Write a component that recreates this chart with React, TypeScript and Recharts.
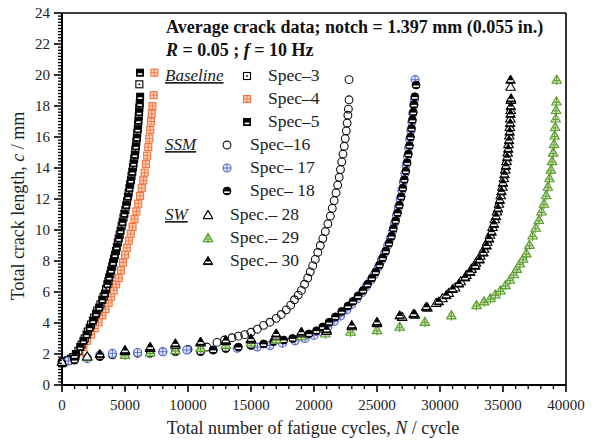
import { ScatterChart, Scatter, XAxis, YAxis, ReferenceLine } from "recharts";

// fatigue cycles (n) vs total crack length in mm (c)
const spec3 = [
  { n: 100, c: 1.45 }, { n: 500, c: 1.6 }, { n: 900, c: 1.8 }, { n: 1300, c: 2.2 },
  { n: 1550, c: 2.6 }, { n: 1800, c: 3.0 }, { n: 2050, c: 3.45 }, { n: 2300, c: 3.9 },
  { n: 2550, c: 4.35 }, { n: 2800, c: 4.8 }, { n: 3050, c: 5.2 }, { n: 3300, c: 5.7 },
  { n: 3500, c: 6.2 }, { n: 3680, c: 6.7 }, { n: 3830, c: 7.15 }, { n: 3980, c: 7.65 },
  { n: 4130, c: 8.15 }, { n: 4280, c: 8.65 }, { n: 4430, c: 9.2 }, { n: 4580, c: 9.7 },
  { n: 4730, c: 10.25 }, { n: 4880, c: 10.8 }, { n: 5030, c: 11.3 }, { n: 5160, c: 11.85 },
  { n: 5290, c: 12.4 }, { n: 5410, c: 12.95 }, { n: 5520, c: 13.5 }, { n: 5630, c: 14.05 },
  { n: 5730, c: 14.6 }, { n: 5820, c: 15.15 }, { n: 5900, c: 15.7 }, { n: 5970, c: 16.25 },
  { n: 6040, c: 16.8 }, { n: 6090, c: 17.35 }, { n: 6140, c: 17.9 }, { n: 6140, c: 19.4 },
];

const spec4 = [
  { n: 0, c: 1.45 }, { n: 500, c: 1.55 }, { n: 1000, c: 1.8 }, { n: 1400, c: 2.1 },
  { n: 1700, c: 2.45 }, { n: 2000, c: 2.85 }, { n: 2300, c: 3.25 }, { n: 2600, c: 3.65 },
  { n: 2900, c: 4.05 }, { n: 3200, c: 4.5 }, { n: 3450, c: 4.9 }, { n: 3700, c: 5.3 },
  { n: 3900, c: 5.7 }, { n: 4100, c: 6.1 }, { n: 4300, c: 6.5 }, { n: 4500, c: 6.9 },
  { n: 4680, c: 7.4 }, { n: 4850, c: 7.9 }, { n: 5000, c: 8.4 }, { n: 5150, c: 8.85 },
  { n: 5300, c: 9.3 }, { n: 5450, c: 9.75 }, { n: 5600, c: 10.2 }, { n: 5750, c: 10.7 },
  { n: 5900, c: 11.2 }, { n: 6050, c: 11.7 }, { n: 6200, c: 12.2 }, { n: 6330, c: 12.7 },
  { n: 6450, c: 13.2 }, { n: 6560, c: 13.7 }, { n: 6660, c: 14.25 }, { n: 6760, c: 14.8 },
  { n: 6850, c: 15.35 }, { n: 6930, c: 15.9 }, { n: 7000, c: 16.45 }, { n: 7060, c: 17.0 },
  { n: 7120, c: 17.5 }, { n: 7180, c: 18.0 }, { n: 7280, c: 18.7 }, { n: 7330, c: 20.15 },
];

const spec5 = [
  { n: 0, c: 1.4 }, { n: 300, c: 1.55 }, { n: 700, c: 1.7 }, { n: 1100, c: 2.0 },
  { n: 1450, c: 2.45 }, { n: 1700, c: 2.85 }, { n: 1950, c: 3.25 }, { n: 2200, c: 3.7 },
  { n: 2450, c: 4.15 }, { n: 2700, c: 4.6 }, { n: 2950, c: 5.0 }, { n: 3200, c: 5.5 },
  { n: 3400, c: 5.9 }, { n: 3600, c: 6.5 }, { n: 3750, c: 6.95 }, { n: 3900, c: 7.4 },
  { n: 4050, c: 7.9 }, { n: 4200, c: 8.4 }, { n: 4350, c: 8.9 }, { n: 4500, c: 9.45 },
  { n: 4650, c: 9.95 }, { n: 4800, c: 10.5 }, { n: 4950, c: 11.05 }, { n: 5100, c: 11.6 },
  { n: 5230, c: 12.15 }, { n: 5350, c: 12.7 }, { n: 5470, c: 13.2 }, { n: 5580, c: 13.75 },
  { n: 5680, c: 14.3 }, { n: 5780, c: 14.85 }, { n: 5860, c: 15.4 }, { n: 5940, c: 15.95 },
  { n: 6010, c: 16.5 }, { n: 6070, c: 17.05 }, { n: 6120, c: 17.6 }, { n: 6170, c: 18.15 },
  { n: 6200, c: 18.6 }, { n: 6190, c: 20.15 },
];

const spec16 = [
  { n: 0, c: 1.5 }, { n: 2000, c: 1.75 }, { n: 4000, c: 1.95 }, { n: 6000, c: 2.05 },
  { n: 8000, c: 2.15 }, { n: 10000, c: 2.3 }, { n: 11500, c: 2.45 }, { n: 12300, c: 2.75 },
  { n: 12900, c: 2.9 }, { n: 13500, c: 3.05 }, { n: 14000, c: 3.15 }, { n: 14500, c: 3.25 },
  { n: 15000, c: 3.4 }, { n: 15500, c: 3.6 }, { n: 16000, c: 3.85 }, { n: 16500, c: 4.05 },
  { n: 17000, c: 4.3 }, { n: 17400, c: 4.55 }, { n: 17800, c: 4.85 }, { n: 18150, c: 5.15 },
  { n: 18450, c: 5.5 }, { n: 18750, c: 5.8 }, { n: 19000, c: 6.1 }, { n: 19250, c: 6.5 },
  { n: 19500, c: 6.9 }, { n: 19700, c: 7.3 }, { n: 19900, c: 7.7 }, { n: 20100, c: 8.1 },
  { n: 20300, c: 8.55 }, { n: 20500, c: 9.0 }, { n: 20700, c: 9.45 }, { n: 20900, c: 9.9 },
  { n: 21100, c: 10.4 }, { n: 21300, c: 10.9 }, { n: 21450, c: 11.4 }, { n: 21600, c: 11.9 },
  { n: 21750, c: 12.4 }, { n: 21880, c: 12.9 }, { n: 22000, c: 13.4 }, { n: 22100, c: 13.9 },
  { n: 22200, c: 14.4 }, { n: 22300, c: 14.9 }, { n: 22400, c: 15.4 }, { n: 22480, c: 15.9 },
  { n: 22560, c: 16.4 }, { n: 22630, c: 16.9 }, { n: 22690, c: 17.4 }, { n: 22730, c: 17.8 },
  { n: 22780, c: 18.4 }, { n: 22780, c: 19.7 },
];

const spec17 = [
  { n: 500, c: 1.55 }, { n: 2000, c: 1.7 }, { n: 3000, c: 1.94 }, { n: 4000, c: 2.04 },
  { n: 6000, c: 2.1 }, { n: 8000, c: 2.15 }, { n: 9900, c: 2.26 }, { n: 12000, c: 2.26 },
  { n: 13900, c: 2.37 }, { n: 15500, c: 2.45 }, { n: 16500, c: 2.55 }, { n: 17500, c: 2.7 },
  { n: 18500, c: 2.85 }, { n: 19300, c: 3.0 }, { n: 20000, c: 3.2 }, { n: 20600, c: 3.45 },
  { n: 21100, c: 3.75 }, { n: 21600, c: 4.1 }, { n: 22100, c: 4.45 }, { n: 22600, c: 4.85 },
  { n: 23000, c: 5.2 }, { n: 23400, c: 5.55 }, { n: 23800, c: 5.95 }, { n: 24150, c: 6.35 },
  { n: 24500, c: 6.75 }, { n: 24800, c: 7.15 }, { n: 25100, c: 7.6 }, { n: 25350, c: 8.05 },
  { n: 25600, c: 8.5 }, { n: 25850, c: 9.0 }, { n: 26050, c: 9.45 }, { n: 26250, c: 9.95 },
  { n: 26400, c: 10.45 }, { n: 26550, c: 10.95 }, { n: 26700, c: 11.45 }, { n: 26840, c: 12.0 },
  { n: 26970, c: 12.55 }, { n: 27090, c: 13.1 }, { n: 27210, c: 13.65 }, { n: 27320, c: 14.2 },
  { n: 27420, c: 14.75 }, { n: 27510, c: 15.3 }, { n: 27600, c: 15.85 }, { n: 27690, c: 16.4 },
  { n: 27770, c: 16.95 }, { n: 27840, c: 17.5 }, { n: 27910, c: 18.05 }, { n: 27970, c: 18.4 },
  { n: 28020, c: 19.7 },
];

const spec18 = [
  { n: 0, c: 1.4 }, { n: 1000, c: 1.6 }, { n: 3000, c: 1.83 }, { n: 5000, c: 1.94 },
  { n: 7000, c: 2.04 }, { n: 9000, c: 2.15 }, { n: 11000, c: 2.15 }, { n: 12000, c: 2.26 },
  { n: 13000, c: 2.35 }, { n: 14000, c: 2.45 }, { n: 15000, c: 2.55 }, { n: 16000, c: 2.65 },
  { n: 16800, c: 2.8 }, { n: 17600, c: 2.9 }, { n: 18300, c: 3.0 }, { n: 19000, c: 3.15 },
  { n: 19600, c: 3.3 }, { n: 20200, c: 3.5 }, { n: 20700, c: 3.75 }, { n: 21200, c: 4.05 },
  { n: 21700, c: 4.4 }, { n: 22200, c: 4.75 }, { n: 22700, c: 5.1 }, { n: 23100, c: 5.4 },
  { n: 23500, c: 5.75 }, { n: 23900, c: 6.1 }, { n: 24250, c: 6.5 }, { n: 24600, c: 6.9 },
  { n: 24900, c: 7.3 }, { n: 25200, c: 7.75 }, { n: 25450, c: 8.2 }, { n: 25700, c: 8.65 },
  { n: 25950, c: 9.15 }, { n: 26150, c: 9.6 }, { n: 26300, c: 10.1 }, { n: 26480, c: 10.6 },
  { n: 26630, c: 11.1 }, { n: 26780, c: 11.6 }, { n: 26920, c: 12.15 }, { n: 27050, c: 12.7 },
  { n: 27170, c: 13.25 }, { n: 27290, c: 13.8 }, { n: 27390, c: 14.35 }, { n: 27490, c: 14.9 },
  { n: 27580, c: 15.45 }, { n: 27660, c: 16.0 }, { n: 27740, c: 16.55 }, { n: 27810, c: 17.1 },
  { n: 27880, c: 17.6 }, { n: 27940, c: 18.1 }, { n: 28000, c: 18.6 }, { n: 28100, c: 19.35 },
];

const spec28 = [
  { n: 0, c: 1.5 }, { n: 2000, c: 1.85 }, { n: 5000, c: 2.2 }, { n: 7000, c: 2.4 },
  { n: 9000, c: 2.6 }, { n: 11000, c: 2.75 }, { n: 13000, c: 2.85 }, { n: 15000, c: 2.95 },
  { n: 17000, c: 3.2 }, { n: 19000, c: 3.35 }, { n: 21000, c: 3.5 }, { n: 23000, c: 3.8 },
  { n: 25000, c: 4.0 }, { n: 27000, c: 4.4 }, { n: 28000, c: 4.55 }, { n: 29000, c: 5.0 },
  { n: 29700, c: 5.3 }, { n: 30200, c: 5.6 }, { n: 30700, c: 5.95 }, { n: 31200, c: 6.3 },
  { n: 31650, c: 6.7 }, { n: 32100, c: 7.1 }, { n: 32500, c: 7.5 }, { n: 32850, c: 7.9 },
  { n: 33200, c: 8.35 }, { n: 33500, c: 8.8 }, { n: 33750, c: 9.25 }, { n: 33970, c: 9.7 },
  { n: 34170, c: 10.2 }, { n: 34350, c: 10.7 }, { n: 34520, c: 11.2 }, { n: 34680, c: 11.7 },
  { n: 34820, c: 12.25 }, { n: 34950, c: 12.8 }, { n: 35070, c: 13.35 }, { n: 35180, c: 13.9 },
  { n: 35280, c: 14.45 }, { n: 35370, c: 15.0 }, { n: 35440, c: 15.55 }, { n: 35500, c: 16.1 },
  { n: 35540, c: 16.65 }, { n: 35580, c: 17.2 }, { n: 35610, c: 17.75 }, { n: 35630, c: 18.4 },
  { n: 35600, c: 19.25 },
];

const spec29 = [
  { n: 2000, c: 1.83 }, { n: 5000, c: 1.95 }, { n: 7000, c: 2.1 }, { n: 9000, c: 2.25 },
  { n: 11000, c: 2.4 }, { n: 13000, c: 2.6 }, { n: 15000, c: 2.75 }, { n: 17000, c: 2.95 },
  { n: 19000, c: 3.15 }, { n: 20900, c: 3.33 }, { n: 22900, c: 3.44 }, { n: 25000, c: 3.55 },
  { n: 26800, c: 3.76 }, { n: 28800, c: 4.08 }, { n: 30900, c: 4.5 }, { n: 32900, c: 5.16 },
  { n: 33500, c: 5.4 }, { n: 34000, c: 5.6 }, { n: 34400, c: 5.85 }, { n: 34800, c: 6.1 },
  { n: 35200, c: 6.45 }, { n: 35550, c: 6.8 }, { n: 35850, c: 7.15 }, { n: 36100, c: 7.5 },
  { n: 36350, c: 7.85 }, { n: 36600, c: 8.15 }, { n: 36850, c: 8.5 }, { n: 37100, c: 9.05 },
  { n: 37350, c: 9.65 }, { n: 37600, c: 10.15 }, { n: 37850, c: 10.65 }, { n: 38050, c: 11.2 },
  { n: 38250, c: 11.7 }, { n: 38420, c: 12.25 }, { n: 38560, c: 12.8 }, { n: 38690, c: 13.35 },
  { n: 38800, c: 13.9 }, { n: 38900, c: 14.45 }, { n: 38980, c: 15.0 }, { n: 39050, c: 15.55 },
  { n: 39100, c: 16.1 }, { n: 39140, c: 16.65 }, { n: 39180, c: 17.2 }, { n: 39210, c: 17.75 },
  { n: 39240, c: 18.3 }, { n: 39260, c: 19.7 },
];

const spec30 = [
  { n: 1000, c: 1.9 }, { n: 3000, c: 2.0 }, { n: 5000, c: 2.26 }, { n: 7000, c: 2.47 },
  { n: 9000, c: 2.69 }, { n: 11000, c: 2.8 }, { n: 13000, c: 2.9 }, { n: 15000, c: 3.0 },
  { n: 17000, c: 3.33 }, { n: 19000, c: 3.44 }, { n: 21000, c: 3.6 }, { n: 23000, c: 3.87 },
  { n: 25000, c: 4.08 }, { n: 26800, c: 4.5 }, { n: 27900, c: 4.6 }, { n: 28900, c: 5.05 },
  { n: 29900, c: 5.4 }, { n: 30500, c: 5.8 }, { n: 31000, c: 6.2 }, { n: 31500, c: 6.55 },
  { n: 32000, c: 6.95 }, { n: 32400, c: 7.3 }, { n: 32800, c: 7.7 }, { n: 33150, c: 8.1 },
  { n: 33450, c: 8.55 }, { n: 33700, c: 9.0 }, { n: 33900, c: 9.45 }, { n: 34100, c: 9.9 },
  { n: 34280, c: 10.4 }, { n: 34450, c: 10.9 }, { n: 34600, c: 11.4 }, { n: 34750, c: 11.95 },
  { n: 34880, c: 12.5 }, { n: 35000, c: 13.05 }, { n: 35120, c: 13.6 }, { n: 35230, c: 14.15 },
  { n: 35330, c: 14.7 }, { n: 35420, c: 15.25 }, { n: 35480, c: 15.8 }, { n: 35530, c: 16.35 },
  { n: 35570, c: 16.9 }, { n: 35600, c: 17.5 }, { n: 35620, c: 18.0 }, { n: 35640, c: 18.5 },
  { n: 35600, c: 19.7 },
];

const xTicks = Array.from({ length: 41 }, (_, i) => i * 1000);
const yTicks = Array.from({ length: 121 }, (_, i) => i / 5);

const FONT = '"Liberation Serif", "Times New Roman", serif';
const ORANGE = "#f2743c";
const BLUE = "#5367cf";
const GREEN = "#5b9b2c";

// marker shapes
const OpenSquareDot = ({ cx, cy }: any) => (
  <g>
    <rect x={cx - 3.5} y={cy - 3.5} width={7} height={7} fill="#fff" stroke="#000" strokeWidth={1.1} />
    <rect x={cx - 0.8} y={cy - 0.8} width={1.6} height={1.6} fill="#000" />
  </g>
);
const GridSquare = ({ cx, cy }: any) => (
  <g>
    <rect x={cx - 3.5} y={cy - 3.5} width={7} height={7} fill="#fbd0bb" stroke={ORANGE} strokeWidth={1.1} />
    <line x1={cx} x2={cx} y1={cy - 3.5} y2={cy + 3.5} stroke={ORANGE} strokeWidth={0.9} />
    <line x1={cx - 3.5} x2={cx + 3.5} y1={cy} y2={cy} stroke={ORANGE} strokeWidth={0.9} />
  </g>
);
const HalfSquare = ({ cx, cy }: any) => (
  <g>
    <rect x={cx - 3.5} y={cy - 3.5} width={7} height={7} fill="#000" stroke="#000" strokeWidth={1} />
    <rect x={cx - 2.3} y={cy + 0.6} width={4.6} height={1.6} fill="#fff" />
  </g>
);
const OpenCircle = ({ cx, cy }: any) => (
  <circle cx={cx} cy={cy} r={3.9} fill="none" stroke="#111" strokeWidth={1.1} />
);
const CrossCircle = ({ cx, cy }: any) => (
  <g>
    <circle cx={cx} cy={cy} r={4} fill="#e4e7f8" stroke={BLUE} strokeWidth={1.1} />
    <line x1={cx} x2={cx} y1={cy - 4} y2={cy + 4} stroke={BLUE} strokeWidth={0.9} />
    <line x1={cx - 4} x2={cx + 4} y1={cy} y2={cy} stroke={BLUE} strokeWidth={0.9} />
  </g>
);
const HalfCircle = ({ cx, cy }: any) => (
  <g>
    <circle cx={cx} cy={cy} r={3.9} fill="#000" stroke="#000" strokeWidth={1} />
    <rect x={cx - 2.8} y={cy + 0.4} width={5.6} height={1.6} fill="#fff" />
  </g>
);
const tri = (cx: number, cy: number) =>
  `M${cx},${cy - 4.6} L${cx + 4.8},${cy + 3.6} L${cx - 4.8},${cy + 3.6} Z`;
const OpenTriangle = ({ cx, cy }: any) => (
  <path d={tri(cx, cy)} fill="#fff" stroke="#000" strokeWidth={1.1} strokeLinejoin="round" />
);
const TreeTriangle = ({ cx, cy }: any) => (
  <g>
    <path d={tri(cx, cy)} fill="#cfe6bd" stroke={GREEN} strokeWidth={1.1} strokeLinejoin="round" />
    <line x1={cx} x2={cx} y1={cy - 4.2} y2={cy + 5.5} stroke={GREEN} strokeWidth={1} />
    <line x1={cx - 3} x2={cx + 3} y1={cy + 1} y2={cy + 1} stroke={GREEN} strokeWidth={1} />
  </g>
);
const HalfTriangle = ({ cx, cy }: any) => (
  <g>
    <path d={tri(cx, cy)} fill="#000" stroke="#000" strokeWidth={1} strokeLinejoin="round" />
    <rect x={cx - 2.8} y={cy + 0.6} width={5.6} height={1.6} fill="#fff" />
  </g>
);

const XTick = ({ x, y, payload }: any) => {
  const v = payload.value;
  const major = v % 5000 === 0;
  return (
    <g>
      <line x1={x} x2={x} y1={y} y2={y + (major ? 7 : 4)} stroke="#000" strokeWidth={major ? 1.6 : 1.3} />
      {major && (
        <text x={x} y={y + 25} textAnchor="middle" fontSize={15} fontFamily={FONT} fill="#222">
          {v}
        </text>
      )}
    </g>
  );
};

const YTick = ({ x, y, payload }: any) => {
  const v = payload.value;
  const major = Math.abs(v / 2 - Math.round(v / 2)) < 1e-6;
  return (
    <g>
      <line x1={x - (major ? 8 : 4)} x2={x} y1={y} y2={y} stroke="#000" strokeWidth={major ? 1.6 : 1.3} />
      {major && (
        <text x={x - 12} y={y + 5} textAnchor="end" fontSize={15} fontFamily={FONT} fill="#222">
          {Math.round(v)}
        </text>
      )}
    </g>
  );
};

const legendRows = [
  { label: "Spec\u20133", Shape: OpenSquareDot, sx: 247, tx: 268, y: 81 },
  { label: "Spec\u20134", Shape: GridSquare, sx: 247, tx: 268, y: 104 },
  { label: "Spec\u20135", Shape: HalfSquare, sx: 247, tx: 268, y: 127 },
  { label: "Spec\u201316", Shape: OpenCircle, sx: 227, tx: 250, y: 150 },
  { label: "Spec\u2013 17", Shape: CrossCircle, sx: 227, tx: 250, y: 173 },
  { label: "Spec\u2013 18", Shape: HalfCircle, sx: 227, tx: 250, y: 196 },
  { label: "Spec.\u2013 28", Shape: OpenTriangle, sx: 208, tx: 230, y: 220 },
  { label: "Spec.\u2013 29", Shape: TreeTriangle, sx: 208, tx: 230, y: 243 },
  { label: "Spec.\u2013 30", Shape: HalfTriangle, sx: 208, tx: 230, y: 266 },
];

const groups = [
  { label: "Baseline", y: 81 },
  { label: "SSM", y: 150 },
  { label: "SW", y: 220 },
];

export default function App() {
  return (
    <div style={{ position: "absolute", left: 0, top: 0, width: 600, height: 441, background: "#fff" }}>
      <ScatterChart width={600} height={441} margin={{ top: 13, right: 34, bottom: 0, left: 0 }}>
        <XAxis
          type="number"
          dataKey="n"
          domain={[0, 40000]}
          ticks={xTicks}
          interval={0}
          height={56}
          tickSize={0}
          tickMargin={0}
          tickLine={false}
          tick={<XTick />}
          axisLine={{ stroke: "#000", strokeWidth: 2 }}
        />
        <YAxis
          type="number"
          dataKey="c"
          domain={[0, 24]}
          ticks={yTicks}
          interval={0}
          width={62}
          tickSize={0}
          tickMargin={0}
          tickLine={false}
          tick={<YTick />}
          axisLine={{ stroke: "#000", strokeWidth: 2 }}
        />
        <ReferenceLine y={24} stroke="#000" strokeWidth={1.6} />
        <ReferenceLine x={40000} stroke="#000" strokeWidth={1.6} />
        <Scatter data={spec4} shape={<GridSquare />} isAnimationActive={false} />
        <Scatter data={spec3} shape={<OpenSquareDot />} isAnimationActive={false} />
        <Scatter data={spec5} shape={<HalfSquare />} isAnimationActive={false} />
        <Scatter data={spec16} shape={<OpenCircle />} isAnimationActive={false} />
        <Scatter data={spec17} shape={<CrossCircle />} isAnimationActive={false} />
        <Scatter data={spec18} shape={<HalfCircle />} isAnimationActive={false} />
        <Scatter data={spec29} shape={<TreeTriangle />} isAnimationActive={false} />
        <Scatter data={spec28} shape={<OpenTriangle />} isAnimationActive={false} />
        <Scatter data={spec30} shape={<HalfTriangle />} isAnimationActive={false} />
      </ScatterChart>
      <svg
        width={600}
        height={441}
        style={{ position: "absolute", left: 0, top: 0, pointerEvents: "none" }}
        fontFamily={FONT}
      >
        <text x={166} y={33} fontSize={18} fontWeight="bold" fill="#111">
          Average crack data; notch = 1.397 mm (0.055 in.)
        </text>
        <text x={166} y={56} fontSize={18} fontWeight="bold" fill="#111">
          <tspan fontStyle="italic">R</tspan> = 0.05 ; <tspan fontStyle="italic">f</tspan> = 10 Hz
        </text>
        {groups.map((g) => (
          <text key={g.label} x={165} y={g.y} fontSize={17} fontStyle="italic" textDecoration="underline" fill="#222">
            {g.label}
          </text>
        ))}
        {legendRows.map(({ label, Shape, sx, tx, y }) => (
          <g key={label}>
            <Shape cx={sx} cy={y - 5} />
            <text x={tx} y={y} fontSize={17.5} fill="#222">
              {label}
            </text>
          </g>
        ))}
        <text x={313} y={434} fontSize={18} textAnchor="middle" fill="#222">
          Total number of fatigue cycles, <tspan fontStyle="italic">N</tspan> / cycle
        </text>
        <text x={24} y={206} fontSize={18} textAnchor="middle" fill="#222" transform="rotate(-90 24 206)">
          Total crack length, <tspan fontStyle="italic">c</tspan> / mm
        </text>
      </svg>
    </div>
  );
}
